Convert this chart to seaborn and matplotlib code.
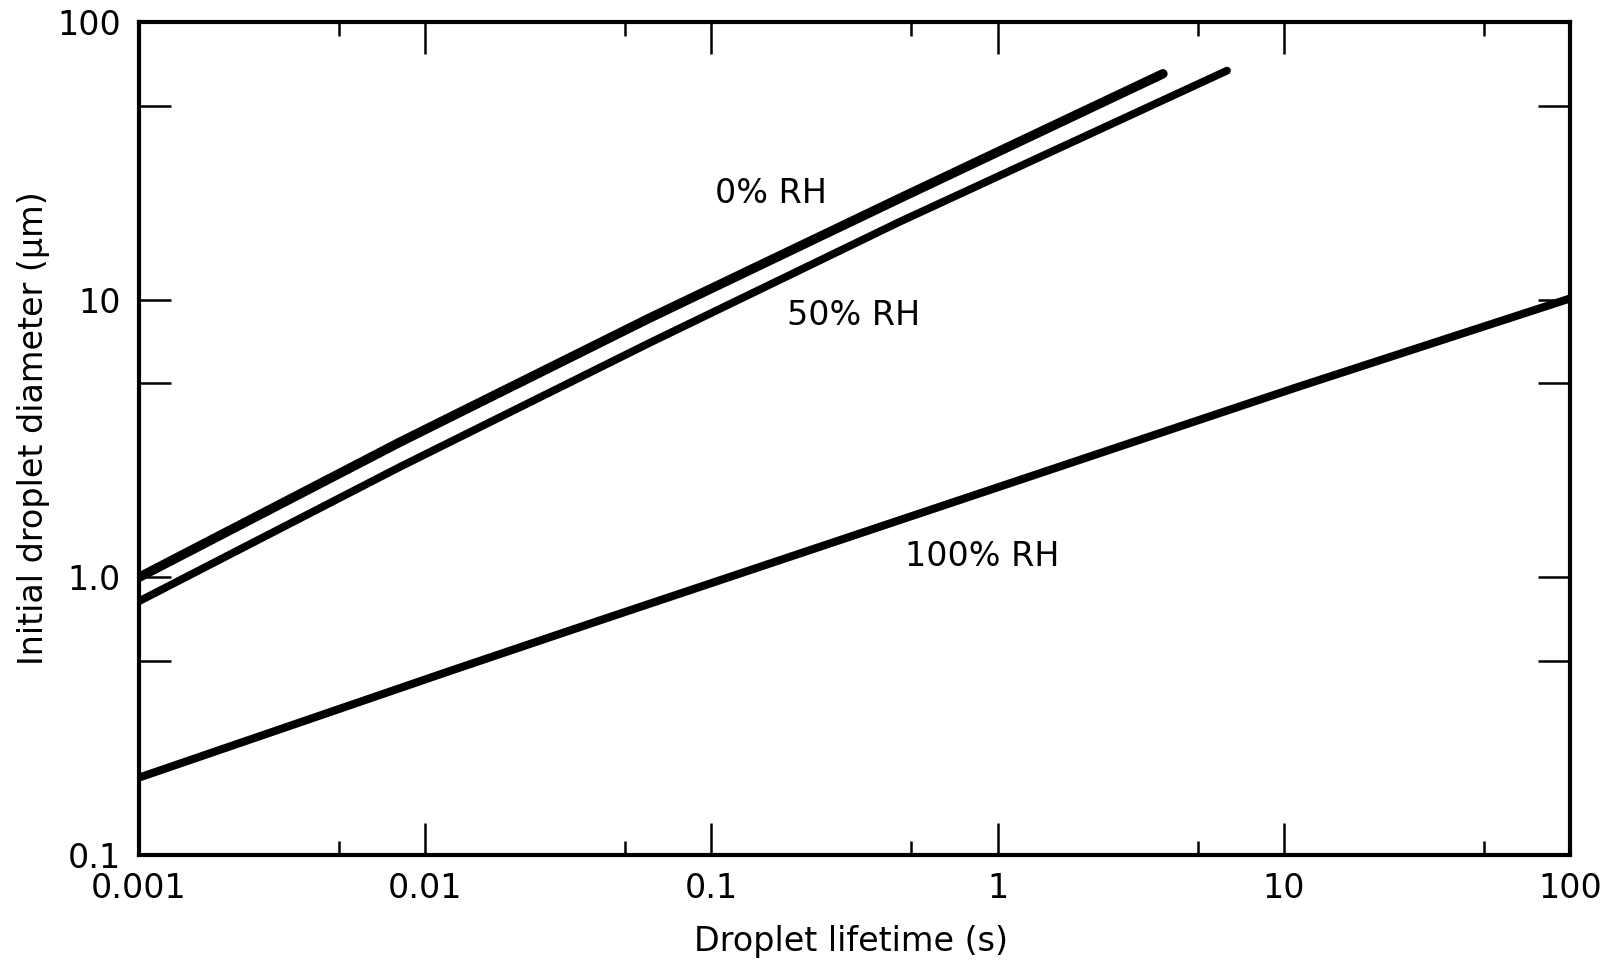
import numpy as np
import pandas as pd
import matplotlib
matplotlib.use("Agg")
import matplotlib.pyplot as plt
import matplotlib.ticker as mticker
import seaborn as sns

# Droplet lifetime (s) vs initial droplet diameter (um) at three humidities
life_rh0 = [0.001, 0.00817, 0.061, 0.456, 3.78]
diam_rh0 = [1.0, 3.07, 8.6, 23.2, 65.1]

life_rh50 = [0.001, 0.00817, 0.061, 0.456, 6.33]
diam_rh50 = [0.82, 2.5, 7.0, 19.1, 66.8]

life_rh100 = [0.001, 0.0122, 0.0408, 11.2, 100.0]
diam_rh100 = [0.19, 0.46, 0.70, 4.85, 10.1]

series_names = ["0% RH", "50% RH", "100% RH"]

x_ticks = [0.001, 0.01, 0.1, 1, 10, 100]
x_tick_labels = ["0.001", "0.01", "0.1", "1", "10", "100"]
x_minor = [0.005, 0.05, 0.5, 5, 50]
y_ticks = [0.1, 1, 10, 100]
y_tick_labels = ["0.1", "1.0", "10", "100"]
y_minor = [0.5, 5, 50]

frames = []
for name, xs, ys in zip(series_names,
                        [life_rh0, life_rh50, life_rh100],
                        [diam_rh0, diam_rh50, diam_rh100]):
    frames.append(pd.DataFrame({"lifetime": xs, "diameter": ys, "rh": name}))
df = pd.concat(frames, ignore_index=True)

sns.set_style("white")
plt.rcParams["font.family"] = ["DejaVu Sans"]

fig = plt.figure(figsize=(16.09, 9.65), dpi=100)
ax = fig.add_axes([0.0864, 0.1140, 0.8894, 0.8632])

widths = {"0% RH": 6.8, "50% RH": 5.6, "100% RH": 5.8}
for name in series_names:
    sub = df[df["rh"] == name]
    sns.lineplot(data=sub, x="lifetime", y="diameter", ax=ax, color="black",
                 linewidth=widths[name], solid_capstyle="round",
                 solid_joinstyle="round", estimator=None, sort=True,
                 legend=False)

ax.set_xscale("log")
ax.set_yscale("log")
ax.set_xlim(0.001, 100)
ax.set_ylim(0.1, 100)

ax.xaxis.set_major_locator(mticker.FixedLocator(x_ticks))
ax.xaxis.set_major_formatter(mticker.FixedFormatter(x_tick_labels))
ax.xaxis.set_minor_locator(mticker.FixedLocator(x_minor))
ax.xaxis.set_minor_formatter(mticker.NullFormatter())
ax.yaxis.set_major_locator(mticker.FixedLocator(y_ticks))
ax.yaxis.set_major_formatter(mticker.FixedFormatter(y_tick_labels))
ax.yaxis.set_minor_locator(mticker.FixedLocator(y_minor))
ax.yaxis.set_minor_formatter(mticker.NullFormatter())

ax.tick_params(which="both", direction="in", top=True, right=True,
               bottom=True, left=True, color="black", width=1.8)
ax.tick_params(which="major", length=23, labelsize=24, labelcolor="black")
ax.tick_params(axis="x", which="major", pad=12)
ax.tick_params(axis="y", which="major", pad=13)
ax.tick_params(axis="x", which="minor", length=10)
ax.tick_params(axis="y", which="minor", length=23)

for sp in ax.spines.values():
    sp.set_visible(True)
    sp.set_color("black")
    sp.set_linewidth(3.0)

ax.set_xlabel("Droplet lifetime (s)", fontsize=24, color="black")
ax.set_ylabel("Initial droplet diameter (\u03bcm)", fontsize=24, color="black")
ax.xaxis.set_label_coords(0.4976, -0.084)
ax.yaxis.set_label_coords(-0.062, 0.513)

label_pos = {"0% RH": (0.161, 24.1), "50% RH": (0.315, 8.76), "100% RH": (0.883, 1.19)}
for name in series_names:
    lx, ly = label_pos[name]
    ax.text(lx, ly, name, fontsize=24, ha="center", va="center", color="black")

fig.savefig("out.png", dpi=100, facecolor="white")
